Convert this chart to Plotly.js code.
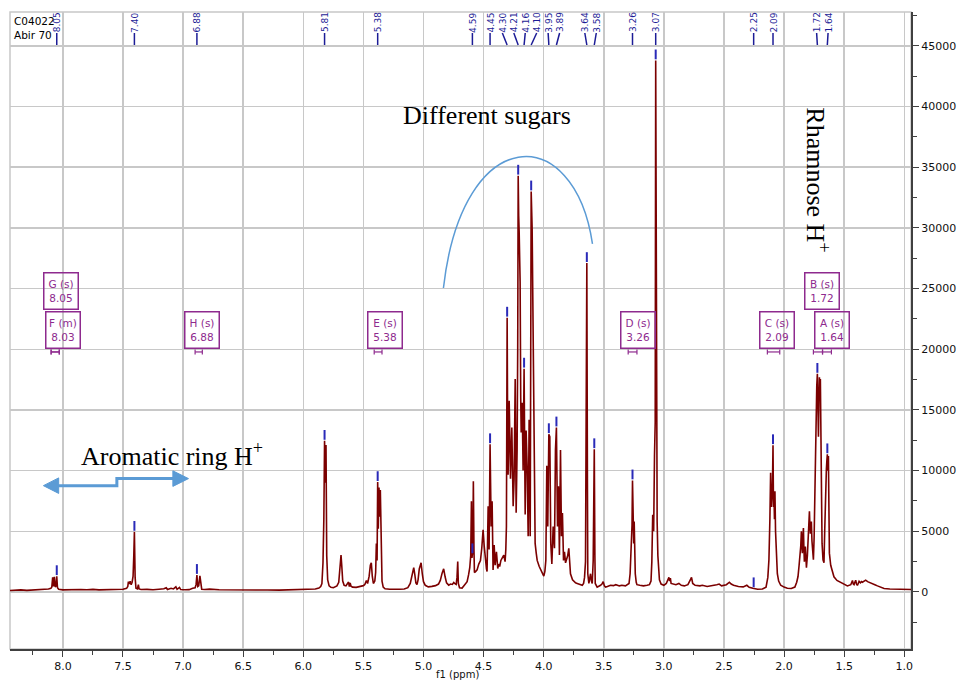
<!DOCTYPE html>
<html><head><meta charset="utf-8">
<script src="https://cdn.plot.ly/plotly-3.0.1.min.js"></script>
<style>html,body{margin:0;padding:0;background:#fff}#chart{width:957px;height:681px}</style>
</head><body><div id="chart"></div>
<script>
// ---- spectrum ----
const ppm = [8.44,8.40,8.35,8.30,8.25,8.20,8.15,8.12,8.10,8.092,8.085,8.079,8.071,8.064,8.057,8.051,8.045,8.035,8.00,7.95,7.90,7.85,7.80,7.75,7.70,7.65,7.60,7.55,7.50,7.47,7.460,7.455,7.448,7.440,7.432,7.424,7.416,7.410,7.405,7.399,7.392,7.380,7.372,7.366,7.35,7.30,7.25,7.20,7.16,7.14,7.13,7.10,7.08,7.06,7.05,7.03,7.02,6.98,6.95,6.92,6.90,6.892,6.885,6.878,6.870,6.860,6.852,6.845,6.82,6.78,6.70,6.60,6.50,6.40,6.30,6.20,6.10,6.00,5.95,5.90,5.87,5.855,5.845,5.836,5.829,5.823,5.817,5.811,5.805,5.797,5.785,5.77,5.75,5.72,5.705,5.697,5.692,5.686,5.680,5.672,5.66,5.645,5.632,5.623,5.617,5.610,5.603,5.59,5.56,5.53,5.50,5.488,5.475,5.465,5.452,5.442,5.434,5.426,5.417,5.405,5.398,5.392,5.386,5.381,5.376,5.370,5.365,5.359,5.352,5.345,5.335,5.32,5.28,5.24,5.20,5.16,5.13,5.11,5.100,5.090,5.081,5.073,5.063,5.054,5.045,5.035,5.020,5.010,5.000,4.985,4.96,4.93,4.90,4.875,4.86,4.845,4.832,4.820,4.808,4.79,4.775,4.760,4.748,4.738,4.728,4.721,4.715,4.710,4.700,4.690,4.679,4.665,4.650,4.637,4.625,4.615,4.607,4.601,4.597,4.593,4.589,4.585,4.580,4.576,4.565,4.554,4.540,4.526,4.515,4.504,4.495,4.485,4.476,4.471,4.466,4.462,4.458,4.454,4.446,4.441,4.437,4.429,4.425,4.421,4.412,4.404,4.393,4.382,4.375,4.366,4.356,4.346,4.332,4.321,4.315,4.310,4.304,4.300,4.296,4.287,4.276,4.265,4.254,4.246,4.237,4.229,4.221,4.216,4.212,4.208,4.204,4.196,4.191,4.187,4.179,4.171,4.163,4.154,4.146,4.137,4.129,4.121,4.112,4.108,4.104,4.096,4.087,4.079,4.071,4.062,4.054,4.037,4.021,4.010,3.999,3.990,3.982,3.974,3.966,3.957,3.949,3.941,3.932,3.921,3.910,3.902,3.894,3.885,3.877,3.869,3.860,3.852,3.844,3.835,3.827,3.818,3.810,3.800,3.791,3.784,3.777,3.760,3.749,3.735,3.721,3.700,3.679,3.668,3.660,3.652,3.646,3.641,3.636,3.633,3.624,3.610,3.603,3.596,3.588,3.583,3.579,3.574,3.571,3.555,3.540,3.527,3.515,3.505,3.495,3.485,3.470,3.444,3.42,3.40,3.37,3.35,3.32,3.30,3.290,3.281,3.273,3.269,3.265,3.261,3.255,3.251,3.247,3.242,3.238,3.230,3.224,3.20,3.17,3.14,3.12,3.107,3.100,3.093,3.085,3.078,3.072,3.068,3.062,3.056,3.050,3.044,3.037,3.023,3.00,2.98,2.965,2.958,2.952,2.946,2.940,2.92,2.90,2.875,2.855,2.83,2.80,2.780,2.770,2.760,2.74,2.70,2.68,2.64,2.60,2.56,2.54,2.52,2.48,2.455,2.44,2.42,2.38,2.34,2.31,2.29,2.26,2.22,2.18,2.150,2.135,2.126,2.118,2.112,2.106,2.101,2.097,2.092,2.088,2.084,2.080,2.076,2.071,2.067,2.060,2.056,2.045,2.028,2.00,1.973,1.940,1.910,1.895,1.884,1.875,1.867,1.861,1.856,1.852,1.848,1.843,1.839,1.835,1.831,1.827,1.823,1.818,1.814,1.806,1.798,1.793,1.789,1.785,1.781,1.777,1.773,1.768,1.764,1.756,1.750,1.745,1.740,1.734,1.728,1.723,1.718,1.714,1.710,1.706,1.702,1.698,1.693,1.688,1.684,1.676,1.668,1.662,1.657,1.652,1.648,1.644,1.640,1.635,1.631,1.627,1.623,1.612,1.600,1.585,1.560,1.529,1.500,1.473,1.445,1.431,1.424,1.418,1.411,1.404,1.397,1.390,1.383,1.376,1.365,1.355,1.348,1.335,1.321,1.305,1.290,1.279,1.255,1.240,1.223,1.200,1.168,1.120,1.060,1.000,0.944];
const intensity = [120,140,170,130,160,150,190,240,300,420,1200,450,1250,420,500,1300,350,220,170,190,160,200,180,210,170,190,180,200,220,300,450,850,650,880,600,800,1300,3000,4950,1200,300,250,600,250,200,210,180,220,260,350,200,300,250,420,220,380,200,180,190,300,350,600,1400,450,500,1330,450,230,200,230,180,160,160,150,160,150,160,170,210,240,320,450,700,2400,6000,12450,9000,12100,3000,1000,500,380,350,500,800,1600,2700,3050,2200,900,550,500,700,820,450,750,480,400,380,420,520,620,950,700,1300,2200,2400,1300,700,900,1600,4000,2600,9050,5200,8600,6200,8400,2600,900,400,260,220,200,220,240,350,700,1200,1800,2000,1500,750,600,1000,1900,2400,1500,850,550,420,460,520,650,950,1550,1900,1250,750,560,650,620,780,680,620,1200,2500,700,350,330,320,500,750,850,1400,2000,3000,7480,2800,3100,4000,9130,3500,1600,1700,1820,2300,2590,3600,5130,3800,2600,1900,1680,3500,7060,4000,3500,12170,6000,5400,7480,3500,1820,3870,2210,3310,1930,2300,2100,2600,2800,3040,2500,3500,5400,22600,14000,9660,15760,9330,13550,7060,9330,17550,6520,11700,20000,34300,31000,29700,25560,16000,13140,15600,10000,18400,6380,13300,10100,4600,14200,4600,18000,33000,29970,17550,6800,4000,3200,2600,2100,1700,1500,1300,1700,2600,10400,5400,13000,12800,4000,2300,5400,3600,11700,13550,5400,8700,3040,11700,4600,6500,2600,3300,2400,2600,3000,3600,2200,1500,1000,850,750,700,600,550,700,1200,2500,12000,27100,9000,1500,700,1500,900,700,2600,6000,11760,3000,700,400,450,550,650,850,500,400,450,550,520,600,500,550,500,600,700,1500,3500,4300,5500,9190,4500,4000,5800,3000,1500,800,600,550,500,550,600,900,2500,6370,5000,11260,14000,43800,12000,5800,3000,1500,1000,650,550,700,1000,1200,900,1150,700,650,600,700,550,500,600,1000,1200,700,550,500,550,450,500,600,650,500,600,800,650,550,450,420,550,380,300,220,240,400,1200,2650,6000,9830,7000,8200,8500,12090,7000,7900,6000,8300,5000,3750,2000,1500,900,550,400,300,280,400,800,1270,2200,2920,3800,5000,4000,3200,4500,5270,3600,2500,3000,3750,2800,2000,3000,4300,5600,6650,5500,4800,5200,5800,4200,3200,2650,4500,8000,12000,15070,17000,17970,15000,12800,15500,17700,16500,17550,10370,6500,4000,2650,2400,5000,8000,9800,10100,10800,11340,10000,11200,7000,3200,2200,1700,1250,950,770,600,500,600,940,650,600,800,970,650,550,700,880,750,850,800,900,970,850,800,770,650,580,500,400,280,240,220,210,200];

// ---- picked peaks ----
const pickLabels = ['8.05','7.40','6.88','5.81','5.38','4.59','4.45','4.30','4.21','4.16','4.10','3.95','3.89','3.64','3.58','3.26','3.07','2.25','2.09','1.72','1.64'];
const pickPpm = [8.051,7.405,6.885,5.823,5.381,4.593,4.446,4.304,4.212,4.163,4.104,3.957,3.894,3.641,3.579,3.261,3.068,2.253,2.092,1.723,1.640];
const pickHeight = [1300,4950,1400,12450,9050,3100,12170,22600,34300,18400,33000,13000,13550,27100,11760,9190,43800,300,12090,17970,11340];

// ---- multiplets ----
const multLabels = ['G (s)','F (m)','H (s)','E (s)','D (s)','C (s)','B (s)','A (s)'];
const multShifts = ['8.05','8.03','6.88','5.38','3.26','2.09','1.72','1.64'];
const multFrom = [8.098,8.098,6.900,5.410,3.297,2.139,1.756,1.680];
const multTo   = [8.030,8.030,6.840,5.345,3.224,2.036,1.680,1.606];

// ---- layout geometry ----
const W = 957, H = 681;
const M = {l:10, r:46, t:12, b:32, pad:0};
const XR = [8.44, 0.944], YR = [-4700, 47790];
const plotW = W - M.l - M.r, plotH = H - M.t - M.b;
const toPx = p => M.l + (XR[0]-p)/(XR[0]-XR[1])*plotW;
const toPpm = px => XR[0] - (px-M.l)/plotW*(XR[0]-XR[1]);
const pyPaper = py => (H - M.b - py)/plotH;
const perPx = (YR[1]-YR[0])/plotH;

const purple = '#8e2a8e', navy = '#1c1c96', blue = '#5b9bd5', dark = '#404040';

// spread header labels so they don't overlap
const gap = 11.45;
let clusters = pickPpm.map((p,i)=>({idx:[i], want:[toPx(p)]}));
const placed = c => { const n=c.want.length, m=c.want.reduce((a,b)=>a+b,0)/n; return c.want.map((_,k)=>m+(k-(n-1)/2)*gap); };
let merged = true;
while (merged) {
  merged = false;
  for (let i=0;i<clusters.length-1;i++){
    const a = placed(clusters[i]), b = placed(clusters[i+1]);
    if (b[0]-a[a.length-1] < gap) {
      clusters[i] = {idx:clusters[i].idx.concat(clusters[i+1].idx), want:clusters[i].want.concat(clusters[i+1].want)};
      clusters.splice(i+1,1); merged = true; break;
    }
  }
}
const labelPx = [];
clusters.forEach(c=>{ const p = placed(c); c.idx.forEach((id,k)=>labelPx[id]=p[k]); });

const annotations = [];
const shapes = [];

// frame
shapes.push({type:'rect', xref:'paper', yref:'paper', x0:0, x1:1, y0:0, y1:1, line:{color:'#c8c8c8', width:1.5}, layer:'below'});

// header labels + connectors
pickLabels.forEach((t,i)=>{
  annotations.push({xref:'x', yref:'paper', x:toPpm(labelPx[i]), y:pyPaper(22.5), text:t, showarrow:false,
    textangle:-90, xanchor:'center', yanchor:'middle', font:{family:'DejaVu Sans', size:9, color:navy}});
  shapes.push({type:'line', xref:'x', yref:'paper', x0:toPpm(labelPx[i]), y0:pyPaper(33), x1:pickPpm[i], y1:pyPaper(45),
    line:{color:navy, width:1.5}});
});

// sample id
annotations.push({xref:'paper', yref:'paper', x:0.0025, y:1, xanchor:'left', yanchor:'top', yshift:-1, align:'left',
  text:'C04022<br>Abir 70', showarrow:false, font:{family:'DejaVu Sans', size:10.5, color:'#000'}});

// x-axis title, just under the tick labels
annotations.push({xref:'paper', yref:'paper', x:(457-M.l)/plotW, y:pyPaper(674.5), xanchor:'center', yanchor:'middle',
  text:'f1 (ppm)', showarrow:false, font:{family:'DejaVu Sans', size:10, color:'#111'}});

// multiplet boxes
const boxPos = [[8.017,24760],[8.001,21590],[6.845,21590],[5.321,21590],[3.217,21590],[2.056,21590],[1.684,24760],[1.602,21590]];
multLabels.forEach((t,i)=>{
  annotations.push({xref:'x', yref:'y', x:boxPos[i][0], y:boxPos[i][1], text:t+'<br>'+multShifts[i], showarrow:false,
    xanchor:'center', yanchor:'middle', align:'center', width:31, height:33, borderpad:1, borderwidth:1.5,
    bordercolor:purple, bgcolor:'rgba(255,255,255,0)', font:{family:'DejaVu Sans', size:10.5, color:purple}});
  const yb = (592-352)*perPx, tk = 2.5*perPx;
  shapes.push({type:'line', xref:'x', yref:'y', x0:multFrom[i], x1:multTo[i], y0:yb, y1:yb, line:{color:purple, width:1.2}});
  shapes.push({type:'line', xref:'x', yref:'y', x0:multFrom[i], x1:multFrom[i], y0:yb-tk, y1:yb+tk, line:{color:purple, width:1.2}});
  shapes.push({type:'line', xref:'x', yref:'y', x0:multTo[i], x1:multTo[i], y0:yb-tk, y1:yb+tk, line:{color:purple, width:1.2}});
});

// free text
const serif = 'Liberation Serif, Times New Roman, serif';
annotations.push({xref:'x', yref:'y', x:4.472, y:39300, text:'Different sugars', showarrow:false, font:{family:serif, size:26, color:'#000'}});
annotations.push({xref:'x', yref:'y', x:7.095, y:11290, text:'Aromatic ring H<sup>+</sup>', showarrow:false, font:{family:serif, size:26, color:'#000'}});
annotations.push({xref:'x', yref:'y', x:1.729, y:33950, text:'Rhamnose H<sup>+</sup>', showarrow:false, textangle:90, font:{family:serif, size:26, color:'#000'}});

// arc over sugars
shapes.push({type:'path', xref:'x', yref:'y', path:'M 4.834,25050 C 4.676,38810 3.744,38810 3.594,28680', line:{color:blue, width:1.5}});
// stepped double arrow
const yA = 8760, yB = 9340, hh = 640;
shapes.push({type:'path', xref:'x', yref:'y', path:`M 8.04,${yA} L 7.551,${yA} L 7.551,${yB} L 7.08,${yB}`, line:{color:blue, width:3}});
shapes.push({type:'path', xref:'x', yref:'y', path:`M 8.162,${yA} L 8.035,${yA+hh} L 8.035,${yA-hh} Z`, fillcolor:blue, line:{color:blue, width:1}});
shapes.push({type:'path', xref:'x', yref:'y', path:`M 6.955,${yB} L 7.085,${yB+hh} L 7.085,${yB-hh} Z`, fillcolor:blue, line:{color:blue, width:1}});

const traces = [
  {type:'scatter', mode:'lines', x:ppm, y:intensity, line:{color:'#7b0000', width:1.6}, hoverinfo:'skip', showlegend:false},
  {type:'scatter', mode:'markers', x:pickPpm, y:pickHeight.map(h=>h+6*perPx), marker:{symbol:'line-ns', size:7, line:{width:2, color:'#2a2ab8'}}, hoverinfo:'skip', showlegend:false}
];

const layout = {
  width:W, height:H, margin:M, paper_bgcolor:'#fff', plot_bgcolor:'#fff', showlegend:false,
  font:{family:'DejaVu Sans', size:11, color:'#000'},
  xaxis:{range:XR, dtick:0.5, tick0:0, tickformat:'.1f', showgrid:true, gridcolor:'#c8c8c8', gridwidth:1.5,
    showline:true, linecolor:dark, linewidth:2, ticks:'outside', ticklen:6, tickcolor:dark, zeroline:false,
    minor:{dtick:0.25, ticks:'outside', ticklen:4, tickcolor:dark, showgrid:false},
    tickfont:{family:'DejaVu Sans', size:11, color:'#111'}},
  yaxis:{range:YR, side:'right', dtick:5000, tick0:0, tickformat:'d', showgrid:true, gridcolor:'#c8c8c8', gridwidth:1.5,
    showline:true, linecolor:dark, linewidth:2, ticks:'outside', ticklen:6, tickcolor:dark, zeroline:false,
    minor:{dtick:2500, ticks:'outside', ticklen:4, tickcolor:dark, showgrid:false},
    tickfont:{family:'DejaVu Sans', size:11, color:'#111'}},
  annotations, shapes
};
Plotly.newPlot('chart', traces, layout, {displayModeBar:false, staticPlot:true});
</script></body></html>
